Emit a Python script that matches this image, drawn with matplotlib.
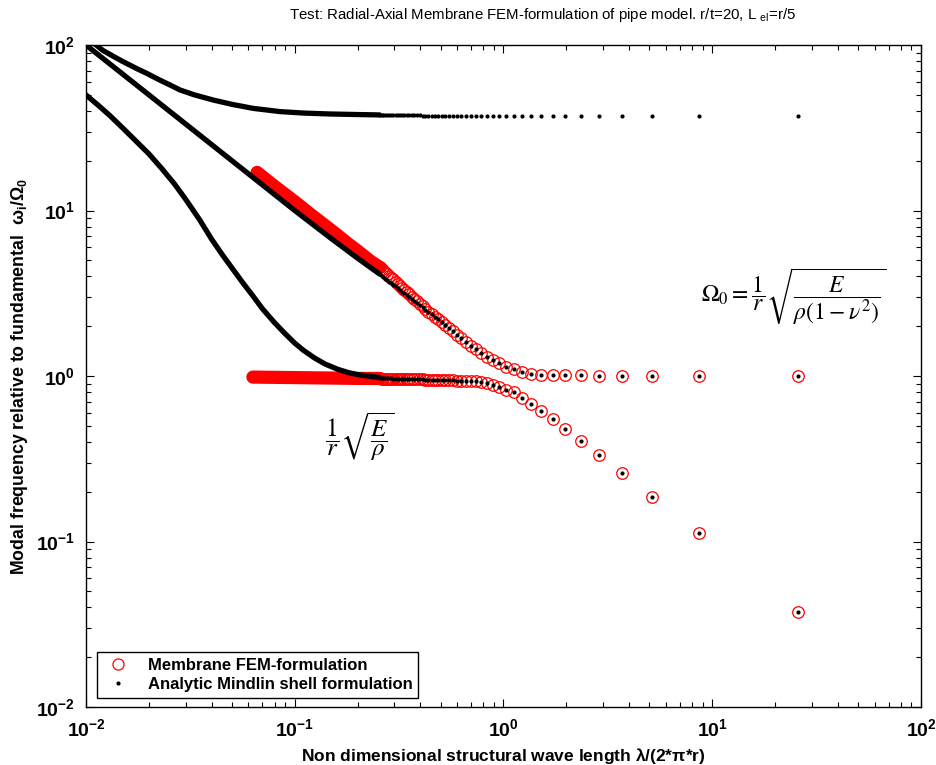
import numpy as np
import matplotlib
matplotlib.use('Agg')
import matplotlib.pyplot as plt
from matplotlib.lines import Line2D
from matplotlib.ticker import LogLocator, FuncFormatter, NullFormatter

plt.rcParams['font.family'] = ['Liberation Sans', 'DejaVu Sans']
plt.rcParams['mathtext.fontset'] = 'custom'
plt.rcParams['mathtext.rm'] = 'Liberation Sans'
plt.rcParams['mathtext.it'] = 'Liberation Sans:italic'
plt.rcParams['mathtext.bf'] = 'Liberation Sans:bold'

# ---------------- data ----------------
# wavelengths where individual points are distinguishable
x_sparse = [25.8, 8.6, 5.16, 3.69, 2.87, 2.35, 1.98, 1.72, 1.52, 1.36,
            1.23, 1.12, 1.03, 0.956, 0.890, 0.832, 0.782, 0.737, 0.697, 0.662,
            0.629, 0.600, 0.573, 0.549, 0.527, 0.506, 0.487, 0.469, 0.453, 0.437,
            0.423, 0.410, 0.397, 0.385, 0.374, 0.363, 0.353, 0.344, 0.335, 0.327,
            0.319, 0.311, 0.304, 0.297, 0.290, 0.284, 0.277, 0.272, 0.266, 0.261,
            0.255]
# analytic (black) branches
top_sparse = [37.2, 37.2, 37.2, 37.2, 37.2, 37.2, 37.2, 37.2, 37.2, 37.2,
              37.2, 37.2, 37.2, 37.2, 37.2, 37.2, 37.2, 37.2, 37.2, 37.2,
              37.3, 37.3, 37.3, 37.3, 37.3, 37.3, 37.4, 37.4, 37.4, 37.4,
              37.4, 37.4, 37.5, 37.5, 37.5, 37.5, 37.5, 37.5, 37.6, 37.6,
              37.6, 37.6, 37.6, 37.6, 37.7, 37.7, 37.7, 37.7, 37.7, 37.8,
              37.8]
upper_black = [1.00, 1.00, 1.00, 1.00, 1.00, 1.01, 1.01, 1.01, 1.02, 1.035,
               1.06, 1.10, 1.13, 1.19, 1.25, 1.31, 1.37, 1.45, 1.52, 1.61,
               1.69, 1.77, 1.87, 1.96, 2.04, 2.12, 2.20, 2.28, 2.36, 2.44,
               2.52, 2.60, 2.68, 2.76, 2.84, 2.92, 3.00, 3.08, 3.16, 3.24,
               3.32, 3.40, 3.48, 3.56, 3.64, 3.72, 3.81, 3.88, 3.96, 4.04,
               4.13]
lower_black = [0.0373, 0.112, 0.186, 0.259, 0.333, 0.406, 0.481, 0.547, 0.615, 0.677,
               0.740, 0.795, 0.828, 0.857, 0.883, 0.904, 0.922, 0.928, 0.931, 0.934,
               0.937, 0.939, 0.941, 0.943, 0.945, 0.947, 0.948, 0.949, 0.950, 0.951,
               0.952, 0.953, 0.954, 0.955, 0.956, 0.957, 0.958, 0.959, 0.960, 0.961,
               0.962, 0.963, 0.964, 0.965, 0.966, 0.967, 0.968, 0.970, 0.971, 0.972,
               0.974]
# membrane FEM (red) branches
upper_red = [1.00, 1.00, 1.00, 1.00, 1.00, 1.01, 1.01, 1.01, 1.02, 1.035,
             1.06, 1.10, 1.13, 1.19, 1.25, 1.31, 1.37, 1.45, 1.52, 1.61,
             1.69, 1.77, 1.87, 1.96, 2.04, 2.12, 2.20, 2.28, 2.36, 2.44,
             2.55, 2.64, 2.73, 2.83, 2.92, 3.02, 3.12, 3.22, 3.32, 3.42,
             3.52, 3.62, 3.72, 3.83, 3.93, 4.04, 4.15, 4.23, 4.33, 4.42,
             4.54]
lower_red = [0.0373, 0.112, 0.186, 0.259, 0.333, 0.406, 0.481, 0.547, 0.615, 0.677,
             0.740, 0.795, 0.828, 0.857, 0.883, 0.904, 0.922, 0.928, 0.931, 0.934,
             0.937, 0.939, 0.941, 0.943, 0.945, 0.947, 0.948, 0.949, 0.950, 0.951,
             0.952, 0.953, 0.954, 0.955, 0.956, 0.957, 0.958, 0.959, 0.960, 0.960,
             0.961, 0.961, 0.962, 0.962, 0.963, 0.963, 0.964, 0.964, 0.965, 0.965,
             0.966]

# short-wave part where the points merge into continuous bands
A_x = [0.0098, 0.0112, 0.012, 0.0135, 0.015, 0.0175, 0.0195, 0.0225, 0.0255, 0.0282,
       0.033, 0.0407, 0.05, 0.0632, 0.0849, 0.11, 0.147, 0.2, 0.255]
A_y = [112, 100, 93, 85.5, 79.5, 72, 67.5, 61.5, 57, 53.5,
       50, 46.5, 43.8, 41.4, 39.6, 38.8, 38.3, 38.0, 37.8]
B_x = [0.0098, 0.02, 0.05, 0.1, 0.15, 0.2, 0.255]
B_y = [102, 50, 20, 10, 6.75, 5.15, 4.13]
C_x = [0.0098, 0.0115, 0.013, 0.015, 0.0175, 0.02, 0.023, 0.0265, 0.03, 0.035,
       0.04, 0.045, 0.05, 0.056, 0.063, 0.07, 0.08, 0.09, 0.1, 0.11,
       0.125, 0.14, 0.16, 0.18, 0.2, 0.23, 0.255]
C_y = [51, 43, 37.5, 31.5, 26, 22, 18, 14.5, 11.7, 8.8,
       6.7, 5.4, 4.5, 3.7, 3.05, 2.55, 2.1, 1.8, 1.58, 1.43,
       1.28, 1.18, 1.1, 1.05, 1.02, 0.995, 0.978]
R1_x = [0.066, 0.08, 0.09, 0.1, 0.12, 0.14, 0.16, 0.18, 0.2, 0.23, 0.255]
R1_y = [17.0, 14.0, 12.5, 11.3, 9.4, 8.1, 7.1, 6.3, 5.7, 4.95, 4.54]
R2_x = [0.063, 0.1, 0.15, 0.2, 0.255]
R2_y = [0.985, 0.978, 0.972, 0.967, 0.966]

legend_labels = ['Membrane FEM-formulation', 'Analytic Mindlin shell formulation']

# ---------------- figure ----------------
fig = plt.figure(figsize=(9.37, 7.65), dpi=100)
ax = fig.add_axes([86/937, 58/765, 835/937, 662/765])
ax.set_xscale('log')
ax.set_yscale('log')
ax.set_xlim(1e-2, 1e2)
ax.set_ylim(1e-2, 1e2)

red_lw = 9.5
blk_lw = 3.8
ms_red = 8.3
# red FEM bands and points
ax.plot(R1_x, R1_y, color='red', lw=red_lw, solid_capstyle='round', zorder=2)
ax.plot(R2_x, R2_y, color='red', lw=red_lw, solid_capstyle='round', zorder=2)
ax.plot(x_sparse, upper_red, 'o', mfc='none', mec='red', ms=ms_red, mew=0.9, zorder=3)
ax.plot(x_sparse, lower_red, 'o', mfc='none', mec='red', ms=ms_red, mew=0.9, zorder=3)
# black analytic curves and points
for xs, ys in ((A_x, A_y), (B_x, B_y), (C_x, C_y)):
    ax.plot(xs, ys, color='black', lw=blk_lw, solid_capstyle='round',
            solid_joinstyle='round', zorder=4)
for ys in (top_sparse, upper_black, lower_black):
    ax.plot(x_sparse, ys, 'o', color='black', ms=3.0, mew=0, zorder=5)

# ticks
fmt = FuncFormatter(lambda v, p: r'$\mathbf{10^{%d}}$' % int(round(np.log10(v))))
for axis in (ax.xaxis, ax.yaxis):
    axis.set_major_locator(LogLocator(base=10, numticks=10))
    axis.set_minor_locator(LogLocator(base=10, subs=np.arange(2, 10), numticks=100))
    axis.set_major_formatter(fmt)
    axis.set_minor_formatter(NullFormatter())
ax.tick_params(which='both', direction='in', top=True, right=True, width=0.8, colors='black')
ax.tick_params(which='major', length=6, labelsize=14, pad=8)
ax.tick_params(which='minor', length=3.5)
for s in ax.spines.values():
    s.set_linewidth(1.0)

ax.set_xlabel(r'Non dimensional structural wave length $\mathbf{\lambda}$/(2*$\mathbf{\pi}$*r)',
              fontsize=12.5, fontweight='bold', labelpad=4)
ax.set_ylabel(r'Modal frequency relative to fundamental  $\mathbf{\omega_i/\Omega_0}$',
              fontsize=12.8, fontweight='bold', labelpad=4)
ax.set_title(r'Test: Radial-Axial Membrane FEM-formulation of pipe model. r/t=20, L $_{\mathrm{el}}$=r/5',
             fontsize=10.8, x=0.547, pad=19)

# formulas
ax.text(0.847, 0.619, r'$\Omega_0 = \dfrac{1}{r}\sqrt{\dfrac{E}{\rho\left(1-\nu^2\right)}}$',
        transform=ax.transAxes, ha='center', va='center', fontsize=17, math_fontfamily='stix')
ax.text(0.328, 0.408, r'$\dfrac{1}{r}\sqrt{\dfrac{E}{\rho}}$',
        transform=ax.transAxes, ha='center', va='center', fontsize=18, math_fontfamily='stix')

handles = [Line2D([], [], ls='none', marker='o', mfc='none', mec='red', ms=8, mew=0.9),
           Line2D([], [], ls='none', marker='o', color='black', ms=3, mew=0)]
leg = ax.legend(handles, legend_labels, loc='lower left', bbox_to_anchor=(0.013, 0.0136),
                fancybox=False, edgecolor='black', framealpha=1, borderaxespad=0,
                prop={'weight': 'bold', 'size': 12}, handletextpad=0.9, borderpad=0.35,
                labelspacing=0.25, handlelength=1.8)
leg.get_frame().set_linewidth(1.0)

fig.savefig('out.png', dpi=100)
